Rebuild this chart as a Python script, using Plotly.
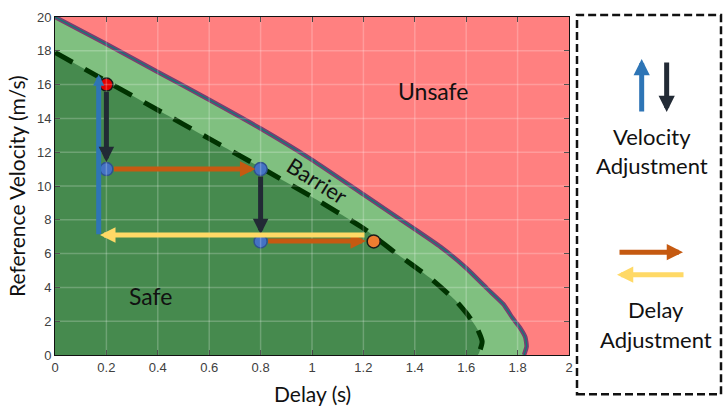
import plotly.graph_objects as go

# ---------------- data ----------------
x_tick_vals = [0, 0.2, 0.4, 0.6, 0.8, 1.0, 1.2, 1.4, 1.6, 1.8, 2.0]
x_tick_text = ["0", "0.2", "0.4", "0.6", "0.8", "1", "1.2", "1.4", "1.6", "1.8", "2"]
y_tick_vals = [0, 2, 4, 6, 8, 10, 12, 14, 16, 18, 20]
y_tick_text = ["0", "2", "4", "6", "8", "10", "12", "14", "16", "18", "20"]

# outer barrier (edge of the unsafe region)
outer_x = [0.0, 0.2, 0.4, 0.6, 0.8, 1.0, 1.2, 1.4, 1.5, 1.6, 1.68, 1.745, 1.78, 1.81, 1.83, 1.835, 1.825]
outer_y = [20.0, 18.4, 16.75, 15.1, 13.4, 11.55, 9.5, 7.45, 6.4, 5.15, 3.95, 3.0, 2.2, 1.6, 1.05, 0.5, 0.0]

# inner (dashed) barrier - edge of the safe region
inner_x = [0.0, 0.2, 0.4, 0.6, 0.8, 1.0, 1.2, 1.32, 1.46, 1.56, 1.61, 1.645, 1.662, 1.655, 1.645]
inner_y = [17.9, 16.2, 14.5, 12.8, 11.1, 9.35, 7.5, 6.1, 4.55, 3.2, 2.3, 1.5, 0.8, 0.35, 0.0]

# states of the adjustment sequence
start_x = [0.2]
start_y = [16.0]
mid_x = [0.2, 0.8, 0.8]
mid_y = [11.0, 11.0, 6.72]
end_x = [1.24]
end_y = [6.72]

# arrows: [tail, head]
vel_up_x = [0.17, 0.17]
vel_up_y = [7.05, 16.6]
vel_down1_x = [0.2, 0.2]
vel_down1_y = [16.0, 11.4]
delay_right1_x = [0.2, 0.78]
delay_right1_y = [11.0, 11.0]
vel_down2_x = [0.8, 0.8]
vel_down2_y = [11.0, 7.15]
delay_right2_x = [0.8, 1.21]
delay_right2_y = [6.75, 6.75]
delay_left_x = [1.21, 0.175]
delay_left_y = [7.1, 7.1]

# ---------------- styles ----------------
RED_BG = "#ff8080"
LIGHT_GREEN = "#80c080"
DARK_GREEN = "#468a4e"
BLUE_ARROW = "#2e75b6"
DARK_ARROW = "#222a35"
ORANGE_ARROW = "#c55a11"
YELLOW_ARROW = "#ffd966"
TEXT_FONT = "Lato"
TICK_FONT = "Liberation Sans"
SMOOTH = dict(shape="spline", smoothing=0.5)

fig = go.Figure()

fig.add_trace(go.Scatter(
    x=outer_x + [0.0], y=outer_y + [0.0], mode="lines", fill="toself",
    fillcolor=LIGHT_GREEN, line=dict(width=0, **SMOOTH), hoverinfo="skip", showlegend=False))
fig.add_trace(go.Scatter(
    x=inner_x + [0.0], y=inner_y + [0.0], mode="lines", fill="toself",
    fillcolor=DARK_GREEN, line=dict(width=0, **SMOOTH), hoverinfo="skip", showlegend=False))
fig.add_trace(go.Scatter(x=outer_x, y=outer_y, mode="lines",
                         line=dict(color="#7a3e70", width=4.5, **SMOOTH),
                         showlegend=False, hoverinfo="skip"))
fig.add_trace(go.Scatter(x=outer_x, y=outer_y, mode="lines",
                         line=dict(color="#0b7d7a", width=1.2, **SMOOTH),
                         showlegend=False, hoverinfo="skip"))
fig.add_trace(go.Scatter(x=inner_x, y=inner_y, mode="lines",
                         line=dict(color="#003300", width=5, dash="20px,14px", **SMOOTH),
                         showlegend=False, hoverinfo="skip"))

fig.add_trace(go.Scatter(x=start_x, y=start_y, mode="markers",
                         marker=dict(size=13, color="#e00000", line=dict(color="#1a1a1a", width=1.5)),
                         showlegend=False))
fig.add_trace(go.Scatter(x=mid_x, y=mid_y, mode="markers",
                         marker=dict(size=13, color="#4472c4", line=dict(color="#2f528f", width=1.5)),
                         showlegend=False))
fig.add_trace(go.Scatter(x=end_x, y=end_y, mode="markers",
                         marker=dict(size=13, color="#ed7d31", line=dict(color="#1a1a1a", width=1.5)),
                         showlegend=False))

annotations = []


def data_arrow(xs, ys, color, width=5, size=0.6, start_off=0):
    annotations.append(dict(
        x=xs[1], y=ys[1], ax=xs[0], ay=ys[0], xref="x", yref="y", axref="x", ayref="y",
        text="", showarrow=True, arrowhead=2, arrowsize=size, arrowwidth=width,
        arrowcolor=color, startstandoff=start_off, standoff=0))


data_arrow(vel_up_x, vel_up_y, BLUE_ARROW, width=5, size=0.45)
data_arrow(vel_down1_x, vel_down1_y, DARK_ARROW, width=5, size=0.62, start_off=6)
data_arrow(delay_right1_x, delay_right1_y, ORANGE_ARROW, width=5, size=0.62, start_off=6)
data_arrow(vel_down2_x, vel_down2_y, DARK_ARROW, width=5, size=0.62, start_off=6)
data_arrow(delay_right2_x, delay_right2_y, ORANGE_ARROW, width=5, size=0.62, start_off=6)
data_arrow(delay_left_x, delay_left_y, YELLOW_ARROW, width=5, size=0.62)

annotations.append(dict(x=1.47, y=15.65, xref="x", yref="y", text="Unsafe", showarrow=False,
                        font=dict(family=TEXT_FONT, size=23, color="#111111")))
annotations.append(dict(x=0.37, y=3.5, xref="x", yref="y", text="Safe", showarrow=False,
                        font=dict(family=TEXT_FONT, size=23, color="#111111")))
annotations.append(dict(x=1.02, y=10.3, xref="x", yref="y", text="Barrier", showarrow=False,
                        textangle=32, font=dict(family=TEXT_FONT, size=22, color="#111111")))

annotations.append(dict(x=0.5, y=0, xref="paper", yref="paper", yanchor="middle", yshift=-38,
                        text="Delay (s)", showarrow=False,
                        font=dict(family=TEXT_FONT, size=21, color="#111111")))
annotations.append(dict(x=0, y=0.5, xref="paper", yref="paper", xanchor="center", xshift=-39,
                        text="Reference Velocity (m/s)", textangle=-90, showarrow=False,
                        font=dict(family=TEXT_FONT, size=21, color="#111111")))


def paper_arrow(x, y, ax, ay, color, width=5, size=0.6):
    annotations.append(dict(x=x, y=y, xref="paper", yref="paper", ax=ax, ay=ay,
                            text="", showarrow=True, arrowhead=2, arrowsize=size,
                            arrowwidth=width, arrowcolor=color, standoff=0))


paper_arrow(1.1414, 0.8754, 0, 54, BLUE_ARROW, width=5, size=0.65)
paper_arrow(1.1900, 0.7188, 0, -51, DARK_ARROW, width=5, size=0.65)
paper_arrow(1.2218, 0.3043, -65, 0, ORANGE_ARROW, width=5, size=0.65)
paper_arrow(1.0934, 0.2377, 68, 0, YELLOW_ARROW, width=5, size=0.65)

for txt, px, py in [("Velocity", 651.7, 131.7), ("Adjustment", 651.7, 161.7),
                    ("Delay", 656, 309), ("Adjustment", 656, 339)]:
    annotations.append(dict(x=(px - 55) / 514, y=(355 - py) / 345, xref="paper", yref="paper",
                            xanchor="center", yanchor="middle", text=txt, showarrow=False,
                            font=dict(family=TEXT_FONT, size=22, color="#111111")))

shapes = []
for xv in x_tick_vals[1:-1]:
    shapes.append(dict(type="line", xref="x", yref="y", x0=xv, x1=xv, y0=y_tick_vals[0], y1=y_tick_vals[-1],
                       line=dict(color="rgba(255,255,255,0.22)", width=1.5), layer="above"))
for yv in y_tick_vals[1:-1]:
    shapes.append(dict(type="line", xref="x", yref="y", y0=yv, y1=yv, x0=x_tick_vals[0], x1=x_tick_vals[-1],
                       line=dict(color="rgba(255,255,255,0.22)", width=1.5), layer="above"))
shapes.append(dict(type="rect", xref="paper", yref="paper",
                   x0=(577 - 55) / 514, x1=(721 - 55) / 514, y0=(355 - 395) / 345, y1=(355 - 8) / 345,
                   line=dict(color="#111111", width=2.5, dash="8px,4px"), fillcolor="rgba(0,0,0,0)"))

fig.update_layout(
    width=724, height=411,
    margin=dict(l=55, r=155, t=10, b=56),
    paper_bgcolor="white", plot_bgcolor=RED_BG,
    annotations=annotations, shapes=shapes,
    showlegend=False,
)
axis_common = dict(showgrid=False, zeroline=False, showline=True, linecolor="#111111", linewidth=1,
                   mirror="ticks", ticks="inside", ticklen=5, tickwidth=1, tickcolor="#222222",
                   ticklabeloverflow="allow",
                   tickfont=dict(family=TICK_FONT, size=13, color="#404040"))
fig.update_xaxes(range=[0, 2], tickvals=x_tick_vals, ticktext=x_tick_text, **axis_common)
fig.update_yaxes(range=[0, 20], tickvals=y_tick_vals, ticktext=y_tick_text, **axis_common)

# remove the page's default body margin so the figure sits at the window's top-left corner
fig.write_html("out.html", config={"displayModeBar": False},
               post_script="document.body.style.margin='0';document.body.style.overflow='hidden';")
